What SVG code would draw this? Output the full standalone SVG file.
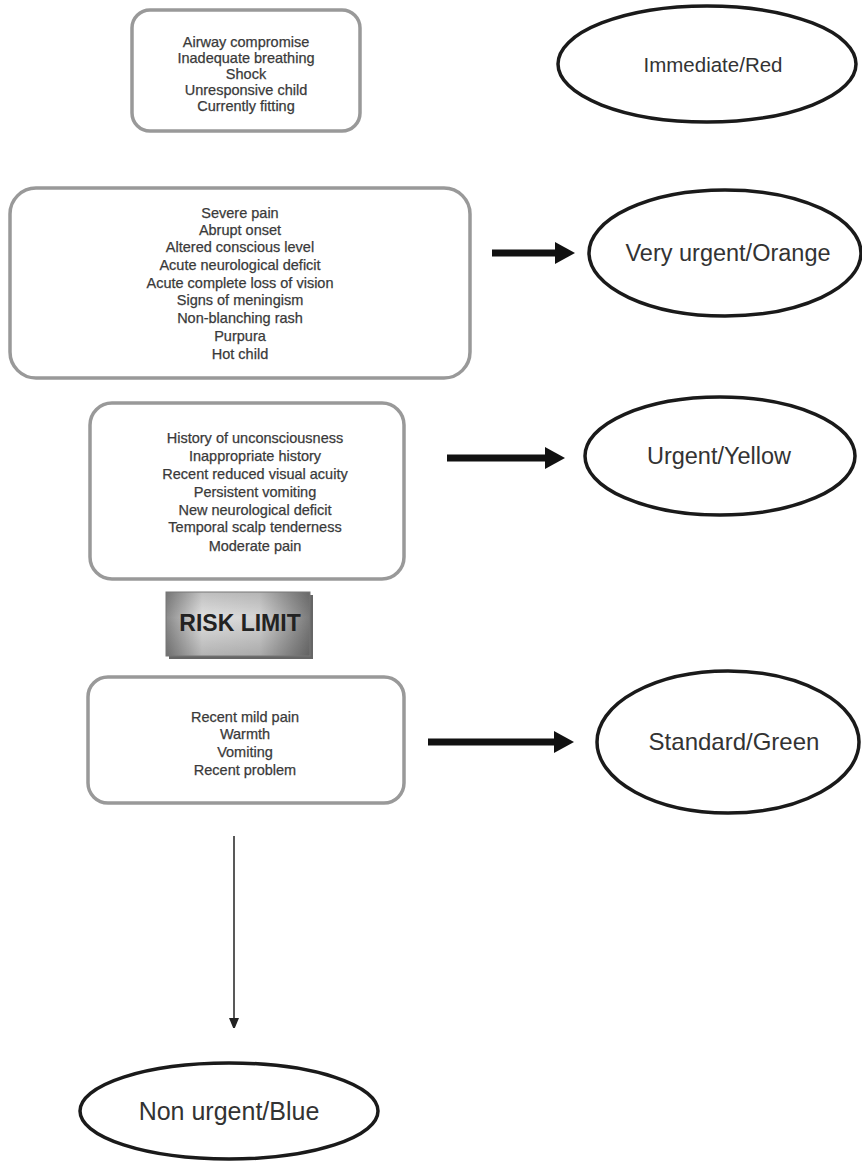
<svg xmlns="http://www.w3.org/2000/svg" width="862" height="1168" viewBox="0 0 862 1168">
<style>
.box{fill:#fff;stroke:#999;stroke-width:3.5}
.ell{fill:#fff;stroke:#1a1a1a;stroke-width:3.5}
.t{font-family:"Liberation Sans",Arial,sans-serif;font-size:14.5px;fill:#3a3a3a;stroke:#3a3a3a;stroke-width:0.25;text-anchor:middle}
.big{font-family:"Liberation Sans",Arial,sans-serif;font-size:22px;fill:#333;text-anchor:middle}
.thick{stroke:#111;stroke-width:7;fill:none}
.thin{stroke:#222;stroke-width:1.5;fill:none}
</style>
<defs>
<marker id="hThick" markerUnits="userSpaceOnUse" markerWidth="20" markerHeight="22" refX="2" refY="11" orient="auto">
<path d="M0,0 L20,11 L0,22 Z" fill="#111"/>
</marker>
<marker id="hThin" markerUnits="userSpaceOnUse" markerWidth="10" markerHeight="12" refX="0" refY="5" orient="auto">
<path d="M0,0 L12,5 L0,10 Z" fill="#222"/>
</marker>
<linearGradient id="gH" x1="0" y1="0" x2="1" y2="0">
<stop offset="0" stop-color="#8a8a8a"/>
<stop offset="0.25" stop-color="#e0e0e0"/>
<stop offset="0.65" stop-color="#d4d4d4"/>
<stop offset="1" stop-color="#7a7a7a"/>
</linearGradient>
<linearGradient id="gV" x1="0" y1="0" x2="0" y2="1">
<stop offset="0" stop-color="#000" stop-opacity="0.15"/>
<stop offset="0.4" stop-color="#000" stop-opacity="0"/>
<stop offset="1" stop-color="#000" stop-opacity="0.2"/>
</linearGradient>
</defs>
<rect width="862" height="1168" fill="#fff"/>

<g id="box1">
<rect class="box" x="132" y="10" width="228" height="121" rx="18"/>
<text class="t" x="246" y="47">Airway compromise</text>
<text class="t" x="246" y="63">Inadequate breathing</text>
<text class="t" x="246" y="79">Shock</text>
<text class="t" x="246" y="95">Unresponsive child</text>
<text class="t" x="246" y="111">Currently fitting</text>
</g>
<g id="red">
<ellipse class="ell" cx="707" cy="64" rx="149" ry="58"/>
<text class="big" x="713" y="72" style="font-size:20.5px">Immediate/Red</text>
</g>

<g id="box2">
<rect class="box" x="10" y="188" width="460" height="190" rx="26"/>
<text class="t" x="240" y="218">Severe pain</text>
<text class="t" x="240" y="235">Abrupt onset</text>
<text class="t" x="240" y="252">Altered conscious level</text>
<text class="t" x="240" y="270">Acute neurological deficit</text>
<text class="t" x="240" y="288">Acute complete loss of vision</text>
<text class="t" x="240" y="305">Signs of meningism</text>
<text class="t" x="240" y="323">Non-blanching rash</text>
<text class="t" x="240" y="341">Purpura</text>
<text class="t" x="240" y="359">Hot child</text>
</g>
<g id="orange">
<ellipse class="ell" cx="725" cy="253" rx="136" ry="63"/>
<text class="big" x="728" y="261" style="font-size:23.5px">Very urgent/Orange</text>
</g>

<g id="box3">
<rect class="box" x="90" y="403" width="314" height="176" rx="22"/>
<text class="t" x="255" y="443">History of unconsciousness</text>
<text class="t" x="255" y="461">Inappropriate history</text>
<text class="t" x="255" y="479">Recent reduced visual acuity</text>
<text class="t" x="255" y="497">Persistent vomiting</text>
<text class="t" x="255" y="515">New neurological deficit</text>
<text class="t" x="255" y="532">Temporal scalp tenderness</text>
<text class="t" x="255" y="551">Moderate pain</text>
</g>
<g id="yellow">
<ellipse class="ell" cx="720" cy="456" rx="135" ry="59"/>
<text class="big" x="719" y="464" style="font-size:23.5px">Urgent/Yellow</text>
</g>

<g id="risk">
<rect x="169" y="595" width="144" height="64" fill="#666"/>
<rect x="166" y="592" width="144" height="64" fill="url(#gH)"/>
<rect x="166" y="592" width="144" height="64" fill="url(#gV)" stroke="#777" stroke-width="1"/>
<text x="240" y="631" font-family="Liberation Sans,Arial,sans-serif" font-size="23" font-weight="bold" fill="#222" text-anchor="middle">RISK LIMIT</text>
</g>

<g id="box4">
<rect class="box" x="88" y="677" width="316" height="126" rx="20"/>
<text class="t" x="245" y="722">Recent mild pain</text>
<text class="t" x="245" y="739">Warmth</text>
<text class="t" x="245" y="757">Vomiting</text>
<text class="t" x="245" y="775">Recent problem</text>
</g>
<g id="green">
<ellipse class="ell" cx="728" cy="742" rx="131" ry="71"/>
<text class="big" x="734" y="750" style="font-size:24px">Standard/Green</text>
</g>

<g id="blue">
<ellipse class="ell" cx="229" cy="1111" rx="149" ry="48"/>
<text class="big" x="229" y="1120" style="font-size:25px">Non urgent/Blue</text>
</g>

<g id="connectors">
<line class="thick" x1="492" y1="253" x2="557" y2="253" marker-end="url(#hThick)"/>
<line class="thick" x1="447" y1="458" x2="547" y2="458" marker-end="url(#hThick)"/>
<line class="thick" x1="428" y1="742" x2="556" y2="742" marker-end="url(#hThick)"/>
<line class="thin" x1="234" y1="836" x2="234" y2="1018" marker-end="url(#hThin)"/>
</g>
</svg>
